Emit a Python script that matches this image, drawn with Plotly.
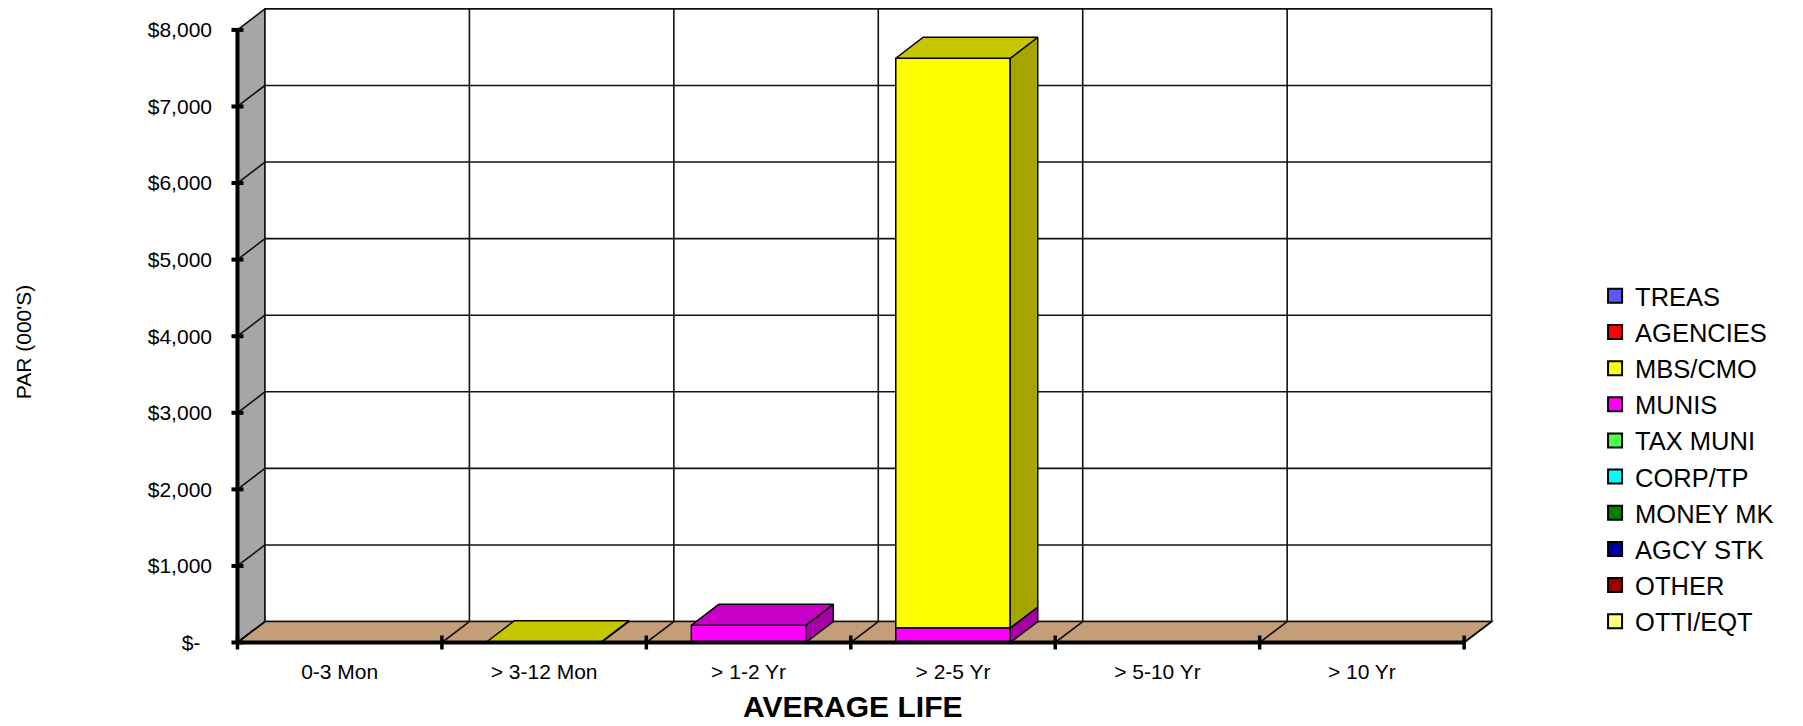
import plotly.graph_objects as go

# ---------------- data ----------------
categories = ["0-3 Mon", "> 3-12 Mon", "> 1-2 Yr", "> 2-5 Yr", "> 5-10 Yr", "> 10 Yr"]
series_names = ["TREAS", "AGENCIES", "MBS/CMO", "MUNIS", "TAX MUNI",
                "CORP/TP", "MONEY MK", "AGCY STK", "OTHER", "OTTI/EQT"]
treas = [0, 0, 0, 0, 0, 0]
agencies = [0, 0, 0, 0, 0, 0]
mbs_cmo = [0, 10, 0, 7440, 0, 0]
munis = [0, 0, 225, 190, 0, 0]
tax_muni = [0, 0, 0, 0, 0, 0]
corp_tp = [0, 0, 0, 0, 0, 0]
money_mk = [0, 0, 0, 0, 0, 0]
agcy_stk = [0, 0, 0, 0, 0, 0]
other = [0, 0, 0, 0, 0, 0]
otti_eqt = [0, 0, 0, 0, 0, 0]
y_tick_values = [0, 1000, 2000, 3000, 4000, 5000, 6000, 7000, 8000]
y_tick_labels = ["$-\u00a0\u00a0", "$1,000", "$2,000", "$3,000", "$4,000",
                 "$5,000", "$6,000", "$7,000", "$8,000"]
y_title = "PAR (000'S)"
x_title = "AVERAGE LIFE"

series_values = [treas, agencies, mbs_cmo, munis, tax_muni,
                 corp_tp, money_mk, agcy_stk, other, otti_eqt]

# ---------------- style ----------------
front_colors = ["#5A5AFF", "#FF0000", "#FFFF00", "#FF00FF", "#4CFF4C",
                "#00FFFF", "#007F00", "#000099", "#990000", "#FFFF80"]


def shade(hexcol, f):
    r, g, b = int(hexcol[1:3], 16), int(hexcol[3:5], 16), int(hexcol[5:7], 16)
    return "#%02X%02X%02X" % (int(r * f), int(g * f), int(b * f))


FONT = "Liberation Sans, Arial, sans-serif"
OFF = 8                 # page body margin of the html
W, H = 1803 - OFF, 726 - OFF
PX_X0 = 237.0 - OFF     # pixel of x=0
PX_CAT = 204.5          # pixels per category
PY_Y0 = 643.0 - OFF     # pixel of value 0
PY_PER = 613.0 / 8000   # pixels per value unit
DX = 27.5 / PX_CAT      # depth offset (category units)
DY = 21.0 / PY_PER      # depth offset (value units)
X_MIN, X_MAX = -0.105, 6.2
Y_MIN = -150
Y_MAX = min(8000 + DY + 12, PY_Y0 / PY_PER - 0.5)
ML = PX_X0 + X_MIN * PX_CAT
MR = W - (PX_X0 + X_MAX * PX_CAT)
MT = max(PY_Y0 - Y_MAX * PY_PER, 0.0)
MB = H - (PY_Y0 - Y_MIN * PY_PER)
BAR_W = 0.56
N = len(categories)
Y_TOP = y_tick_values[-1]


def paper_x(px):
    return (px - OFF - ML) / (W - ML - MR)


def paper_y(py):
    return ((H - MB) - (py - OFF)) / (H - MT - MB)


centers = [i + 0.5 for i in range(N)]

# stacking: bottom to top = reversed legend order
stack_order = list(range(len(series_names)))[::-1]
bases = [[0.0] * N for _ in series_names]
running = [0.0] * N
for s in stack_order:
    for i in range(N):
        bases[s][i] = running[i]
        running[i] += series_values[s][i]

fig = go.Figure()

# ---------------- room (shapes below traces) ----------------
shapes = []
wall_line = dict(color="#111111", width=1.6)


def path(points):
    return "M " + " L ".join("%f,%f" % p for p in points) + " Z"


# left side wall
shapes.append(dict(type="path", xref="x", yref="y", layer="below",
                   path=path([(0, 0), (DX, DY), (DX, Y_TOP + DY), (0, Y_TOP)]),
                   fillcolor="#A6A6A6", line=wall_line))
# back wall
shapes.append(dict(type="path", xref="x", yref="y", layer="below",
                   path=path([(DX, DY), (N + DX, DY), (N + DX, Y_TOP + DY), (DX, Y_TOP + DY)]),
                   fillcolor="#FFFFFF", line=wall_line))
# floor
shapes.append(dict(type="path", xref="x", yref="y", layer="below",
                   path=path([(0, 0), (N, 0), (N + DX, DY), (DX, DY)]),
                   fillcolor="#C49E78", line=wall_line))
# horizontal gridlines (back wall + side wall)
for v in y_tick_values[1:-1]:
    shapes.append(dict(type="line", xref="x", yref="y", layer="below",
                       x0=DX, y0=v + DY, x1=N + DX, y1=v + DY, line=wall_line))
    shapes.append(dict(type="line", xref="x", yref="y", layer="below",
                       x0=0, y0=v, x1=DX, y1=v + DY, line=wall_line))
# vertical gridlines on back wall + floor diagonals
for k in range(1, N):
    shapes.append(dict(type="line", xref="x", yref="y", layer="below",
                       x0=k + DX, y0=DY, x1=k + DX, y1=Y_TOP + DY, line=wall_line))
for k in range(0, N + 1):
    shapes.append(dict(type="line", xref="x", yref="y", layer="below",
                       x0=k, y0=0, x1=k + DX, y1=DY, line=wall_line))

# ---------------- bars: front faces ----------------
for s, name in enumerate(series_names):
    vals = series_values[s]
    fig.add_trace(go.Bar(
        x=centers, y=[v if v else None for v in vals], base=bases[s],
        width=BAR_W, name=name, legendgroup=name, showlegend=False,
        marker=dict(color=front_colors[s], line=dict(color="#000000", width=1.5)),
        hoverinfo="skip"))

# ---------------- bars: top & side faces ----------------
face_line = dict(color="#000000", width=1.5)
for i in range(N):
    top_series = None
    for s in stack_order:
        v = series_values[s][i]
        if not v:
            continue
        top_series = s
        b = bases[s][i]
        t = b + v
        x1 = centers[i] + BAR_W / 2
        fig.add_trace(go.Scatter(
            x=[x1, x1, x1 + DX, x1 + DX, x1], y=[b, t, t + DY, b + DY, b],
            mode="lines", fill="toself", fillcolor=shade(front_colors[s], 0.65),
            line=face_line, showlegend=False, hoverinfo="skip",
            legendgroup=series_names[s]))
    if top_series is not None:
        t = bases[top_series][i] + series_values[top_series][i]
        x0 = centers[i] - BAR_W / 2
        x1 = centers[i] + BAR_W / 2
        fig.add_trace(go.Scatter(
            x=[x0, x1, x1 + DX, x0 + DX, x0], y=[t, t, t + DY, t + DY, t],
            mode="lines", fill="toself", fillcolor=shade(front_colors[top_series], 0.78),
            line=face_line, showlegend=False, hoverinfo="skip",
            legendgroup=series_names[top_series]))

# ---------------- axis lines and ticks ----------------
fig.add_trace(go.Scatter(x=[0, 0], y=[0, Y_TOP], mode="lines",
                         line=dict(color="#000000", width=4),
                         showlegend=False, hoverinfo="skip"))
fig.add_trace(go.Scatter(x=[0, N], y=[0, 0], mode="lines",
                         line=dict(color="#000000", width=4),
                         showlegend=False, hoverinfo="skip"))
tx, ty = [], []
for v in y_tick_values:
    tx += [-6 / PX_CAT, 6 / PX_CAT, None]
    ty += [v, v, None]
fig.add_trace(go.Scatter(x=tx, y=ty, mode="lines", line=dict(color="#000000", width=4),
                         showlegend=False, hoverinfo="skip"))
tx, ty = [], []
for k in range(N + 1):
    tx += [k, k, None]
    ty += [-7 / PY_PER, 7 / PY_PER, None]
fig.add_trace(go.Scatter(x=tx, y=ty, mode="lines", line=dict(color="#000000", width=3.5),
                         showlegend=False, hoverinfo="skip"))

# ---------------- legend entries (square swatches) ----------------
for s, name in enumerate(series_names):
    fig.add_trace(go.Scatter(
        x=[None], y=[None], mode="markers", name=name, legendgroup=name,
        marker=dict(symbol="square", size=14, color=front_colors[s],
                    line=dict(color="#000000", width=2)),
        hoverinfo="skip"))

# ---------------- layout ----------------
fig.update_layout(
    width=W, height=H,
    margin=dict(l=ML, r=MR, t=MT, b=MB, pad=0, autoexpand=False),
    paper_bgcolor="#FFFFFF", plot_bgcolor="#FFFFFF",
    barmode="overlay",
    font=dict(family=FONT, size=21, color="#000000"),
    shapes=shapes,
    xaxis=dict(range=[X_MIN, X_MAX], tickvals=centers, ticktext=categories,
               showgrid=False, zeroline=False, showline=False, ticks="",
               ticklabelstandoff=3, automargin=False,
               tickfont=dict(family=FONT, size=21, color="#000000")),
    yaxis=dict(range=[Y_MIN, Y_MAX], tickvals=y_tick_values, ticktext=y_tick_labels,
               showgrid=False, zeroline=False, showline=False, ticks="",
               ticklabelstandoff=3, automargin=False,
               tickfont=dict(family=FONT, size=21, color="#000000")),
    legend=dict(x=paper_x(1595), y=paper_y(273), xanchor="left", yanchor="top",
                traceorder="normal", itemsizing="trace",
                font=dict(family=FONT, size=25.5, color="#000000"),
                bgcolor="rgba(0,0,0,0)", borderwidth=0),
    annotations=[
        dict(text=y_title, textangle=-90, xref="paper", yref="paper",
             x=paper_x(23), y=paper_y(342), xanchor="center", yanchor="middle",
             showarrow=False, font=dict(family=FONT, size=21, color="#000000")),
        dict(text="<b>" + x_title + "</b>", xref="paper", yref="paper",
             x=paper_x(852), y=paper_y(707), xanchor="center", yanchor="middle",
             showarrow=False, font=dict(family=FONT, size=30, color="#000000")),
    ],
)

fig.write_html("out.html")
